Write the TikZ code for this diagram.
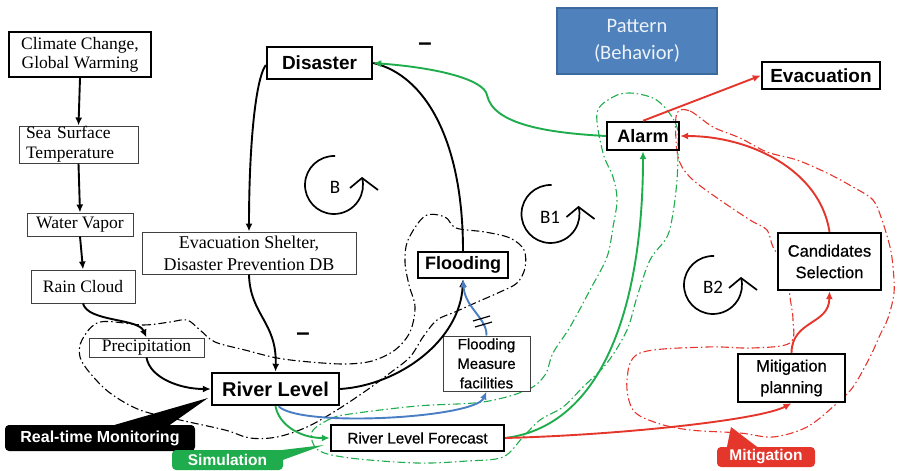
\documentclass[tikz,border=0pt]{standalone}
\usepackage{fontspec}
\setmainfont{Liberation Serif}
\setsansfont{Liberation Sans}
\newfontfamily\calfont{Carlito}
\newfontfamily\medsans[FakeBold=0.7]{Liberation Sans}
\usetikzlibrary{arrows.meta}
\definecolor{cred}{HTML}{E5362C}
\definecolor{cgreen}{HTML}{1FAC4C}
\definecolor{cblue}{HTML}{4A7EC4}
\definecolor{pfill}{HTML}{4F81BD}
\definecolor{pdraw}{HTML}{3C6A9E}
\newcommand{\fsz}[2]{\fontsize{#1pt}{#2pt}\selectfont}
\tikzset{
  heavy/.style={draw, line width=2.4pt, fill=white, inner sep=0pt, align=center},
  light/.style={draw=black!75, line width=1pt, fill=white, inner sep=0pt, align=center},
  lnk/.style={line width=1.9pt, -{Latex[length=8pt,width=7pt]}},
  region/.style={line width=1.1pt, dash pattern=on 8pt off 3pt on 1.5pt off 3pt},
  tag/.style={rounded corners=4pt, inner sep=0pt, text=white},
  loopsym/.pic={
    \draw[line width=1.7pt] (88:29pt) arc[start angle=88, end angle=374, radius=29pt];
    \draw[line width=1.7pt] (16pt,-3pt) -- (28pt,7pt) -- (44pt,-5pt);
  }
}
\begin{document}
\begin{tikzpicture}[x=1pt,y=-1pt]
\useasboundingbox (0,0) rectangle (900,471);

% regions
\draw[region] plot[smooth cycle, tension=0.55] coordinates {(100,322) (143,325) (170,322) (187,320) (200,330) (215,342) (245,350) (277,358) (310,362) (345,364) (372,361) (395,350) (410,332) (415,307) (409,285) (405,262) (408,240) (425,216) (445,217) (456,228) (485,232) (510,238) (524,250) (525,268) (517,283) (500,292) (475,303) (455,312) (437,320) (423,337) (410,357) (390,373) (367,390) (337,410) (307,427) (277,437) (250,438) (225,430) (180,420) (140,410) (110,393) (90,373) (80,357) (82,340)};
\draw[region, cgreen] plot[smooth cycle, tension=0.55] coordinates {(312,432) (330,419) (350,414) (417,406) (483,402) (527,390) (545,375) (553,353) (570,327) (590,290) (607,257) (613,227) (617,200) (613,177) (603,153) (597,113) (613,97) (630,93) (653,98) (667,110) (677,127) (678,147) (677,180) (673,213) (667,237) (650,260) (637,297) (627,330) (607,363) (583,387) (563,407) (540,420) (523,437) (503,457) (467,461) (417,463) (350,458) (318,450)};
\draw[region, cred] plot[smooth cycle, tension=0.55] coordinates {(677,113) (690,111) (713,127) (740,138) (767,152) (797,160) (827,173) (853,187) (873,200) (882,220) (890,247) (893,267) (894,293) (888,318) (880,335) (870,357) (853,387) (835,405) (807,427) (773,437) (740,433) (690,430) (657,423) (633,410) (627,380) (640,353) (707,347) (752,348) (790,343) (793,320) (790,297) (787,270) (773,247) (767,230) (750,220) (720,200) (693,180) (680,163) (676,140)};

% nodes
\node[heavy, minimum width=142pt, minimum height=45pt, font=\rmfamily\fsz{17.5}{19}] (clim) at (80,54.5) {Climate Change,\\Global Warming};
\node[light, minimum width=119pt, minimum height=37pt, text width=105pt, inner xsep=7pt, align=left, font=\rmfamily\fsz{17.5}{20}] (sea) at (78.5,144.5) {Sea Surface\\Temperature};
\node[light, minimum width=106pt, minimum height=23pt, font=\rmfamily\fsz{17.5}{19}] (vap) at (80,224.5) {Water Vapor};
\node[light, minimum width=104pt, minimum height=33pt, font=\rmfamily\fsz{17.5}{19}] (rain) at (83,286.5) {Rain Cloud};
\node[light, minimum width=115pt, minimum height=19pt, font=\rmfamily\fsz{17.5}{19}] (prec) at (146.5,347.5) {Precipitation};
\node[light, minimum width=214pt, minimum height=42pt, font=\rmfamily\fsz{18}{22}] (shel) at (249,253) {Evacuation Shelter,\\Disaster Prevention DB};
\node[heavy, minimum width=105pt, minimum height=32pt, font=\sffamily\bfseries\fsz{19}{21}] (dis) at (319.5,63) {Disaster};
\node[heavy, minimum width=90pt, minimum height=26pt, font=\sffamily\bfseries\fsz{18}{20}] (flood) at (463,265) {Flooding};
\node[light, minimum width=87pt, minimum height=55pt, font=\medsans\fsz{15}{19.5}] (fmf) at (486.5,363.5) {Flooding\\Measure\\facilities};
\node[heavy, minimum width=127pt, minimum height=32pt, font=\sffamily\bfseries\fsz{20}{22}] (river) at (275.5,389) {River Level};
\node[heavy, minimum width=173pt, minimum height=26pt, font=\medsans\fsz{15.3}{18}] (fc) at (417.5,438) {River Level Forecast};
\node[fill=pfill, draw=pdraw, line width=1.2pt, minimum width=160pt, minimum height=66pt, inner sep=0pt, align=center, text=white!90!pfill, font=\calfont\fsz{20.5}{27}] (pat) at (637,41) {Pattern\\(Behavior)};
\node[heavy, minimum width=118pt, minimum height=27pt, font=\sffamily\bfseries\fsz{19}{21}] (evac) at (821,75.5) {Evacuation};
\node[heavy, fill=none, minimum width=72pt, minimum height=28pt, font=\sffamily\bfseries\fsz{18}{20}] (alarm) at (643,136) {Alarm};
\node[heavy, minimum width=103pt, minimum height=57pt, font=\medsans\fsz{16.5}{21.5}] (cand) at (829.5,261.5) {Candidates\\Selection};
\node[heavy, minimum width=107pt, minimum height=48pt, font=\medsans\fsz{16.5}{21.5}] (mit) at (791.5,378) {Mitigation\\planning};

% black links
\draw[lnk] (clim.south) -- (sea.north);
\draw[lnk] (sea.south) -- (vap.north);
\draw[lnk] (vap.south) -- (rain.north);
\draw[lnk] (rain.south) .. controls (88,322) and (138,318) .. (prec.north);
\draw[lnk] (prec.south) .. controls (150,378) and (180,389) .. (river.west);
\draw[lnk] (shel.south) .. controls (250,315) and (277,322) .. (river.north);
\draw[lnk] ([yshift=-2pt]dis.west) .. controls (255,80) and (249,150) .. (shel.north);
\draw[line width=1.9pt] (flood.north) .. controls (463,140) and (425,75) .. (dis.east);
\draw[lnk] (river.east) .. controls (400,385) and (460,340) .. (flood.south);
% blue links
\draw[lnk, cblue] (fmf.north) .. controls (487,318) and (465,308) .. (flood.south);
\draw[lnk, cblue] ([xshift=3pt]river.south) .. controls (300,428) and (475,418) .. (fmf.south);
\draw[line width=1.2pt] (473,321) -- (490,316);
\draw[line width=1.2pt] (475,327) -- (492,322);
% green links
\draw[lnk, cgreen] (river.south) .. controls (279,425) and (300,438) .. (fc.west);
\draw[lnk, cgreen] (fc.east) .. controls (610,425) and (643,290) .. (alarm.south);
\draw[lnk, cgreen] (alarm.west) .. controls (550,133) and (493,125) .. (487,95) .. controls (484,80) and (440,68) .. (dis.east);
% red links
\draw[lnk, cred] (alarm.north) -- (evac.west);
\draw[lnk, cred] (cand.north) .. controls (820,170) and (750,136) .. (alarm.east);
\draw[lnk, cred] (mit.north) .. controls (792,320) and (829,325) .. (cand.south);
\draw[lnk, cred] (fc.east) .. controls (620,435) and (760,420) .. (mit.south);

% polarity marks
\node[font=\sffamily\bfseries\fsz{24}{24}] (m1) at (425,47) {–};
\node[font=\sffamily\bfseries\fsz{24}{24}] (m2) at (303,337) {–};

% loop symbols
\pic at (334,185) {loopsym};
\node[font=\calfont\fsz{19}{19}] (lb) at (335,187) {B};
\pic at (550.5,214) {loopsym};
\node[font=\calfont\fsz{19}{19}] (lb1) at (550,217) {B1};
\pic at (713,285) {loopsym};
\node[font=\calfont\fsz{19}{19}] (lb2) at (713,287) {B2};

% tags
\node[tag, fill=black, minimum width=190pt, minimum height=26pt, font=\sffamily\bfseries\fsz{16}{18}] (rtm) at (100,438) {Real-time Monitoring};
\coordinate (rtmtip) at (208,398);
\fill ([xshift=15pt]rtm.north) -- (rtmtip) -- ([xshift=70pt]rtm.north) -- cycle;
\node[tag, fill=cgreen, minimum width=111pt, minimum height=20pt, font=\sffamily\bfseries\fsz{15.5}{18}] (sim) at (227.5,460) {Simulation};
\coordinate (simtip) at (324,445);
\fill[cgreen] ([xshift=-8pt,yshift=-1pt]sim.north east) -- (simtip) -- ([yshift=-10pt]sim.north east) -- cycle;
\node[tag, fill=cred, minimum width=98pt, minimum height=20pt, font=\sffamily\bfseries\fsz{15.5}{18}] (mtag) at (766,457) {Mitigation};
\coordinate (mtip) at (731,427);
\fill[cred] ([xshift=-39pt]mtag.north) -- (mtip) -- ([xshift=-9pt]mtag.north) -- cycle;
\end{tikzpicture}
\end{document}
